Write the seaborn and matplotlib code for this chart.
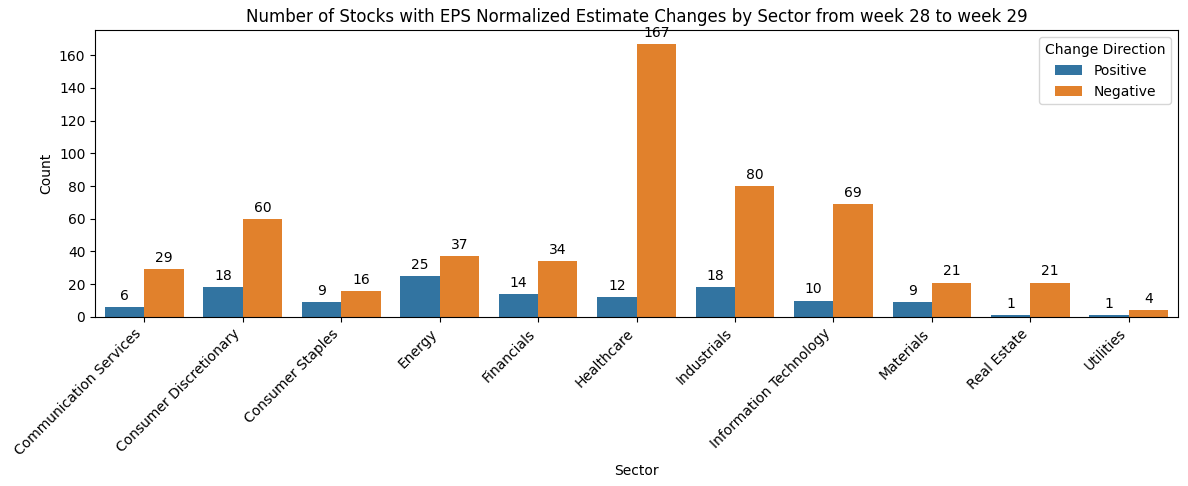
import matplotlib
matplotlib.use("Agg")
import matplotlib.pyplot as plt
import seaborn as sns
import pandas as pd

sectors = ["Communication Services", "Consumer Discretionary", "Consumer Staples", "Energy",
           "Financials", "Healthcare", "Industrials", "Information Technology",
           "Materials", "Real Estate", "Utilities"]
positive = [6, 18, 9, 25, 14, 12, 18, 10, 9, 1, 1]
negative = [29, 60, 16, 37, 34, 167, 80, 69, 21, 21, 4]

df = pd.DataFrame({
    "Sector": sectors * 2,
    "Count": positive + negative,
    "Change Direction": ["Positive"] * len(sectors) + ["Negative"] * len(sectors),
})

fig, ax = plt.subplots(figsize=(11.88, 4.86), dpi=100)
sns.barplot(data=df, x="Sector", y="Count", hue="Change Direction", ax=ax,
            palette=["#1f77b4", "#ff7f0e"])
for c in ax.containers:
    ax.bar_label(c, padding=3, fontsize=10)
ax.set_title("Number of Stocks with EPS Normalized Estimate Changes by Sector from week 28 to week 29")
plt.setp(ax.get_xticklabels(), rotation=45, ha="right")
ax.legend(title="Change Direction", loc="upper right")
fig.subplots_adjust(left=0.080, right=0.9916, top=0.938, bottom=0.348)
fig.savefig("out.png", dpi=100)
